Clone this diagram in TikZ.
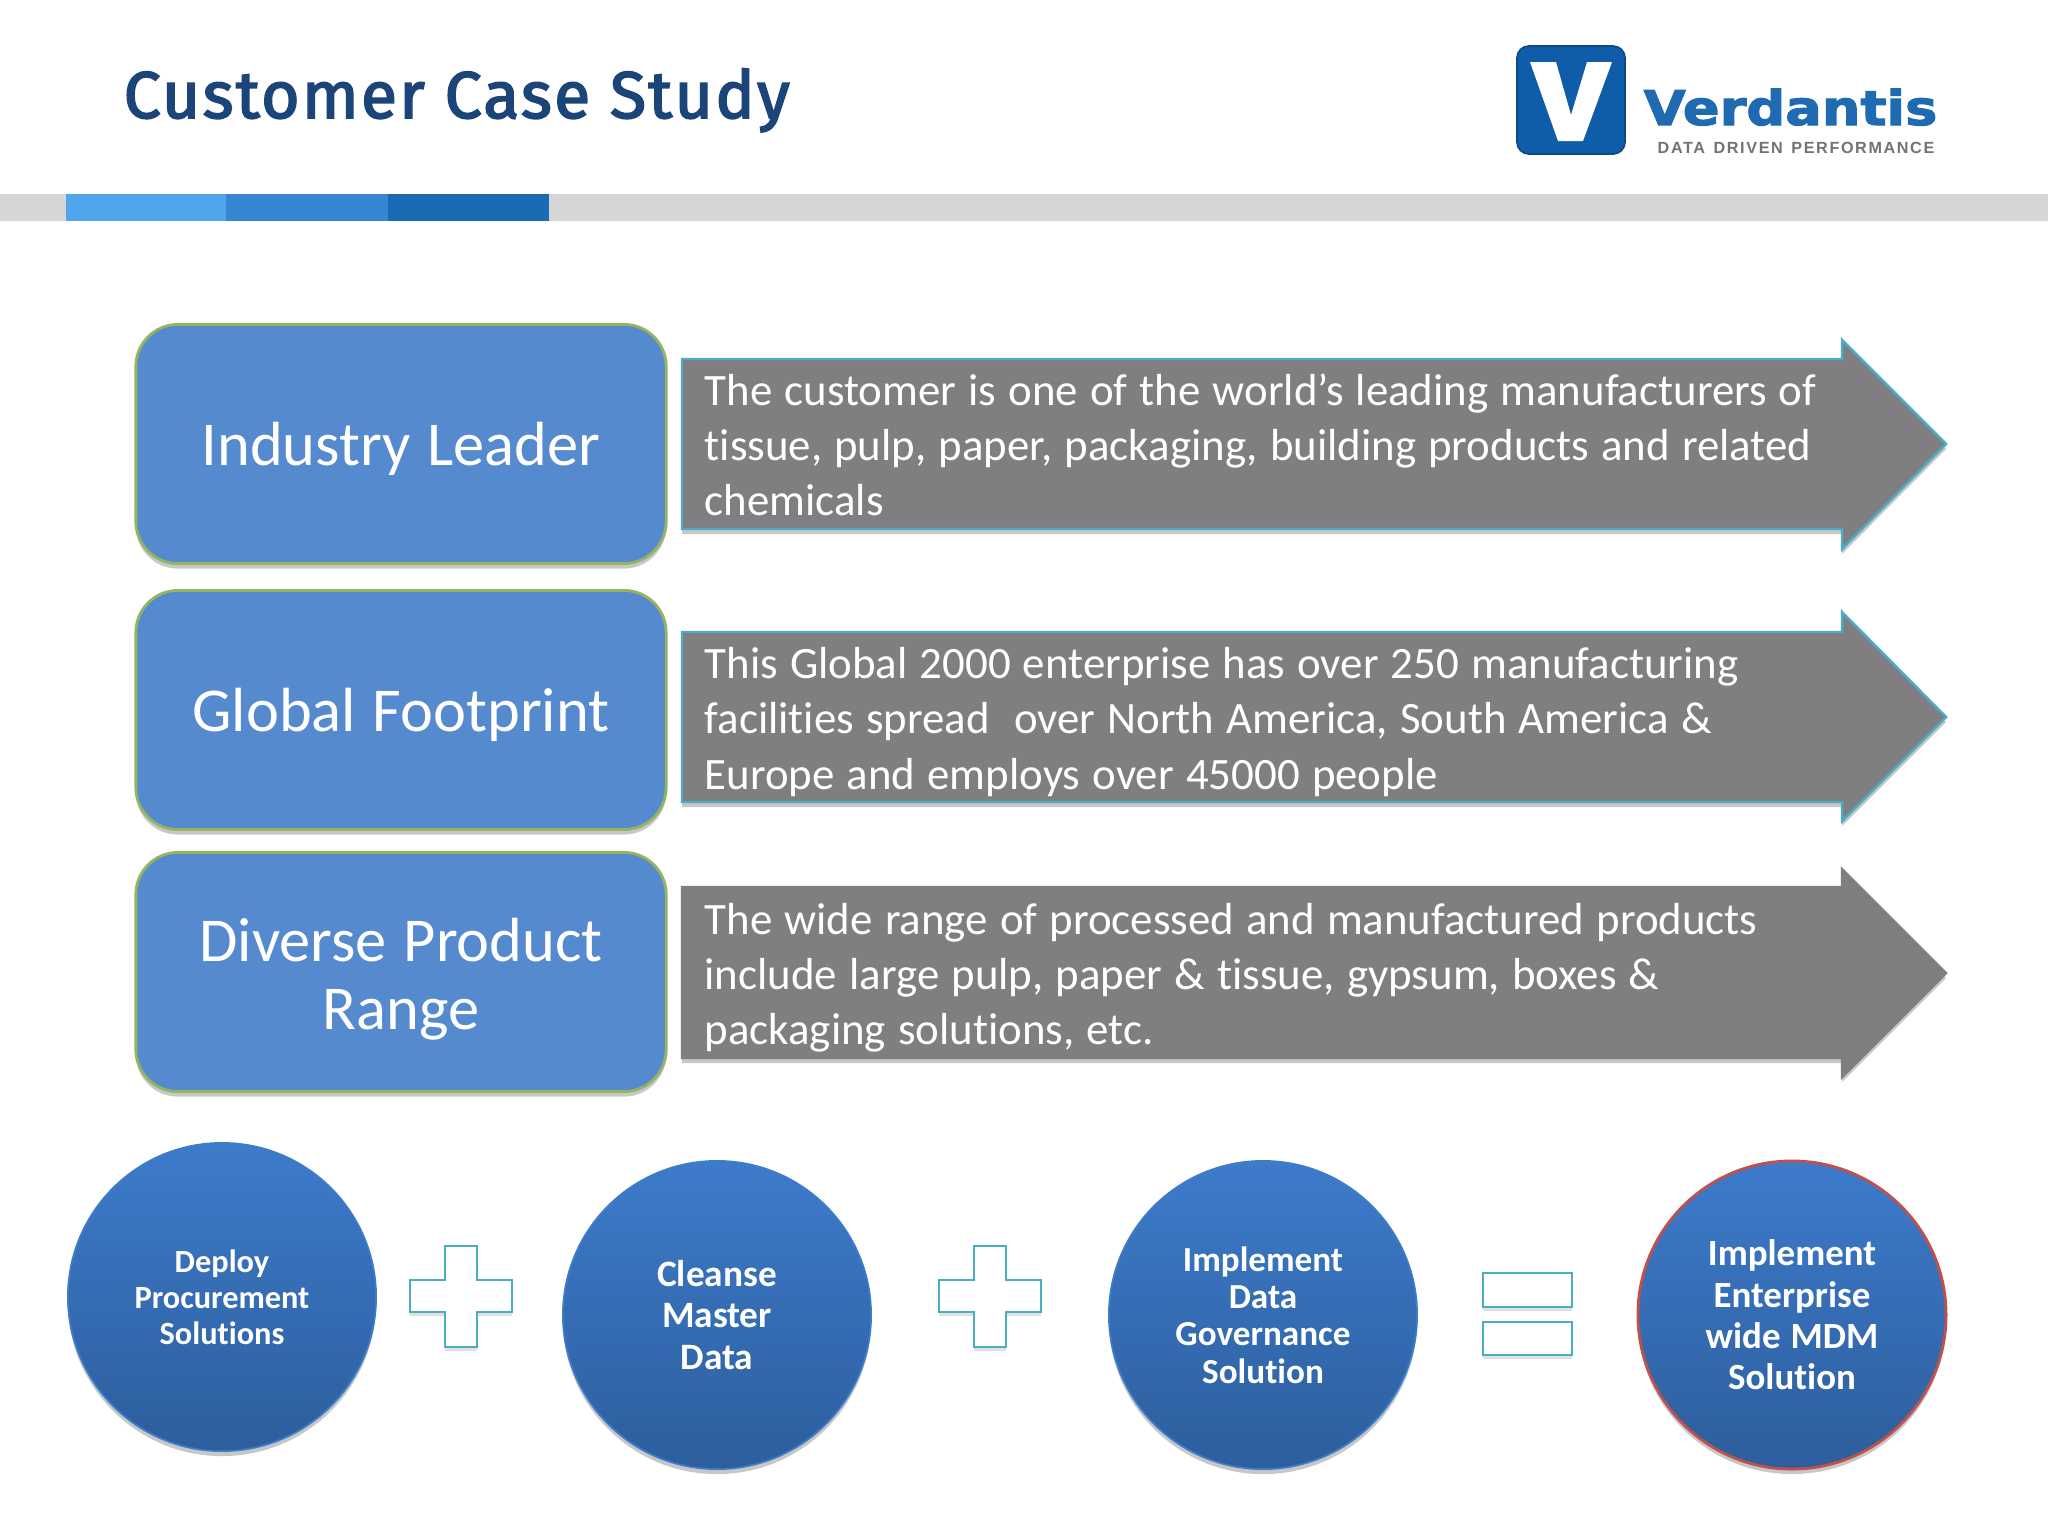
\documentclass[tikz,border=0pt]{standalone}
\usepackage{fontspec}
\setmainfont[Ligatures=CommonOff,WordSpace=1.2]{Carlito}
\newfontfamily\titlefont[LetterSpace=3.5,FakeBold=2.6]{Fira Sans}
\newfontfamily\logofont[FakeBold=2.2]{DejaVu Sans Bold}
\newfontfamily\tagfont[LetterSpace=10,WordSpace=1.4]{Liberation Sans}
\usetikzlibrary{positioning,shadows,calc}
\definecolor{navy}{HTML}{1B4478}
\definecolor{barGrey}{HTML}{D6D5D8}
\definecolor{bar1}{HTML}{4FA6EC}
\definecolor{bar2}{HTML}{3487D0}
\definecolor{bar3}{HTML}{196BB3}
\definecolor{boxBlue}{HTML}{558ACF}
\definecolor{boxGreen}{HTML}{93B562}
\definecolor{arrowGrey}{HTML}{807E81}
\definecolor{teal1}{HTML}{4BACC6}
\definecolor{discTop}{HTML}{3D7BCB}
\definecolor{discBot}{HTML}{2D5E9C}
\definecolor{discRed}{HTML}{C0504D}
\definecolor{logoBlue}{HTML}{0F5CA8}
\definecolor{logoText}{HTML}{1F6AB1}
\tikzset{
  softshadow/.style={drop shadow={shadow xshift=0cm,shadow yshift=-0.05cm,opacity=0.22,fill=black}},
  headbox/.style={rounded corners=0.42cm,fill=boxBlue,draw=boxGreen,line width=0.8pt,minimum width=5.3cm,minimum height=2.39cm,softshadow},
  headlabel/.style={align=center,text=white,inner sep=0pt,font=\fontsize{17.75}{19.4}\selectfont},
  arrowbody/.style={fill=arrowGrey,line width=0.7pt,softshadow},
  arrowtext/.style={anchor=west,text=white,align=left,inner sep=0pt,font=\fontsize{12.76}{15.65}\selectfont},
  disc/.style={circle,minimum size=3.08cm,inner sep=0pt,top color=discTop,bottom color=discBot,draw=discTop,line width=0.5pt,align=center,text=white,softshadow},
  signline/.style={draw=teal1,fill=white,line width=0.7pt,drop shadow={shadow xshift=0cm,shadow yshift=-0.04cm,opacity=0.12,fill=black}},
}
\begin{document}
\begin{tikzpicture}[x=0.01cm,y=-0.01cm]
\useasboundingbox (0,0) rectangle (2048,1536);
\fill[white] (0,0) rectangle (2048,1536);
% header
\node[anchor=base west,inner sep=0pt,text=navy,font=\titlefont\fontsize{18.8}{22}\selectfont] (title) at (123,118) {Customer Case Study};
\fill[barGrey] (0,194) rectangle (2048,221);
\fill[bar1] (66,194) rectangle (226,221);
\fill[bar2] (226,194) rectangle (388,221);
\fill[bar3] (388,194) rectangle (549,221);
% logo
\fill[rounded corners=0.12cm,logoBlue,draw=logoBlue!80!black,line width=0.5pt] (1517,46) rectangle (1625,154);
\fill[white] (1530,62) -- (1556,62) -- (1571,115) -- (1587,62) -- (1612,62) -- (1583,141) -- (1558,141) -- cycle;
\node[anchor=base west,inner sep=0pt,text=logoText,font=\logofont\fontsize{13.6}{16}\selectfont] (brand) at (1643,125) {\scalebox{1.135}[1]{Verdantis}};
\node[anchor=base west,inner sep=0pt,text=black!55,font=\tagfont\bfseries\fontsize{4.6}{6}\selectfont] (tagline) at (1657,153) {DATA DRIVEN PERFORMANCE};
% left boxes
\node[headbox] (leader) at (401,444) {};
\node[headbox] (footprint) at (401,710) {};
\node[headbox] (range) at (401,972) {};
\node[headlabel] (leaderlabel) at (401,449) {Industry Leader};
\node[headlabel] (footprintlabel) at (401,715) {Global Footprint};
\node[headlabel] (rangelabel) at (401,979) {Diverse Product\\Range};
% right arrows
\draw[arrowbody,draw=teal1] (682,359) -- (1842,359) -- (1842,340) -- (1946,444) -- (1842,549) -- (1842,529) -- (682,529) -- cycle;
\draw[arrowbody,draw=teal1] (682,632) -- (1842,632) -- (1842,612) -- (1946,717) -- (1842,821) -- (1842,802) -- (682,802) -- cycle;
\draw[arrowbody,draw=arrowGrey] (682,887) -- (1842,887) -- (1842,869) -- (1946,973) -- (1842,1077) -- (1842,1058) -- (682,1058) -- cycle;
\node[arrowtext] (leadertext) at (704,445) {The customer is one of the world’s leading manufacturers of\\tissue, pulp, paper, packaging, building products and related\\chemicals};
\node[arrowtext] (footprinttext) at (704,722) {This Global 2000 enterprise has over 250 manufacturing\\facilities spread\ \ over North America, South America \&\\Europe and employs over 45000 people};
\node[arrowtext] (rangetext) at (704,978) {The wide range of processed and manufactured products\\include large pulp, paper \& tissue, gypsum, boxes \&\\packaging solutions, etc.};
% bottom discs
\node[disc,font=\bfseries\fontsize{9.2}{10.25}\selectfont] (deploy) at (222,1297) {Deploy\\Procurement\\Solutions};
\node[disc,font=\bfseries\fontsize{10.6}{11.7}\selectfont] (cleanse) at (717,1315) {Cleanse\\Master\\Data};
\node[disc,font=\bfseries\fontsize{10}{10.6}\selectfont] (govern) at (1263,1315) {Implement\\Data\\Governance\\Solution};
\node[disc,draw=discRed,line width=0.8pt,font=\bfseries\fontsize{10.5}{11.75}\selectfont] (mdm) at (1792,1315) {Implement\\Enterprise\\wide MDM\\Solution};
% signs
\foreach \sx in {461,990} {
  \draw[signline] (\sx-16,1246) -- (\sx+16,1246) -- (\sx+16,1280) -- (\sx+51,1280) -- (\sx+51,1312) -- (\sx+16,1312) -- (\sx+16,1347) -- (\sx-16,1347) -- (\sx-16,1312) -- (\sx-51,1312) -- (\sx-51,1280) -- (\sx-16,1280) -- cycle;
}
\draw[signline] (1483,1273) rectangle (1572,1307);
\draw[signline] (1483,1322) rectangle (1572,1355);
\end{tikzpicture}
\end{document}
